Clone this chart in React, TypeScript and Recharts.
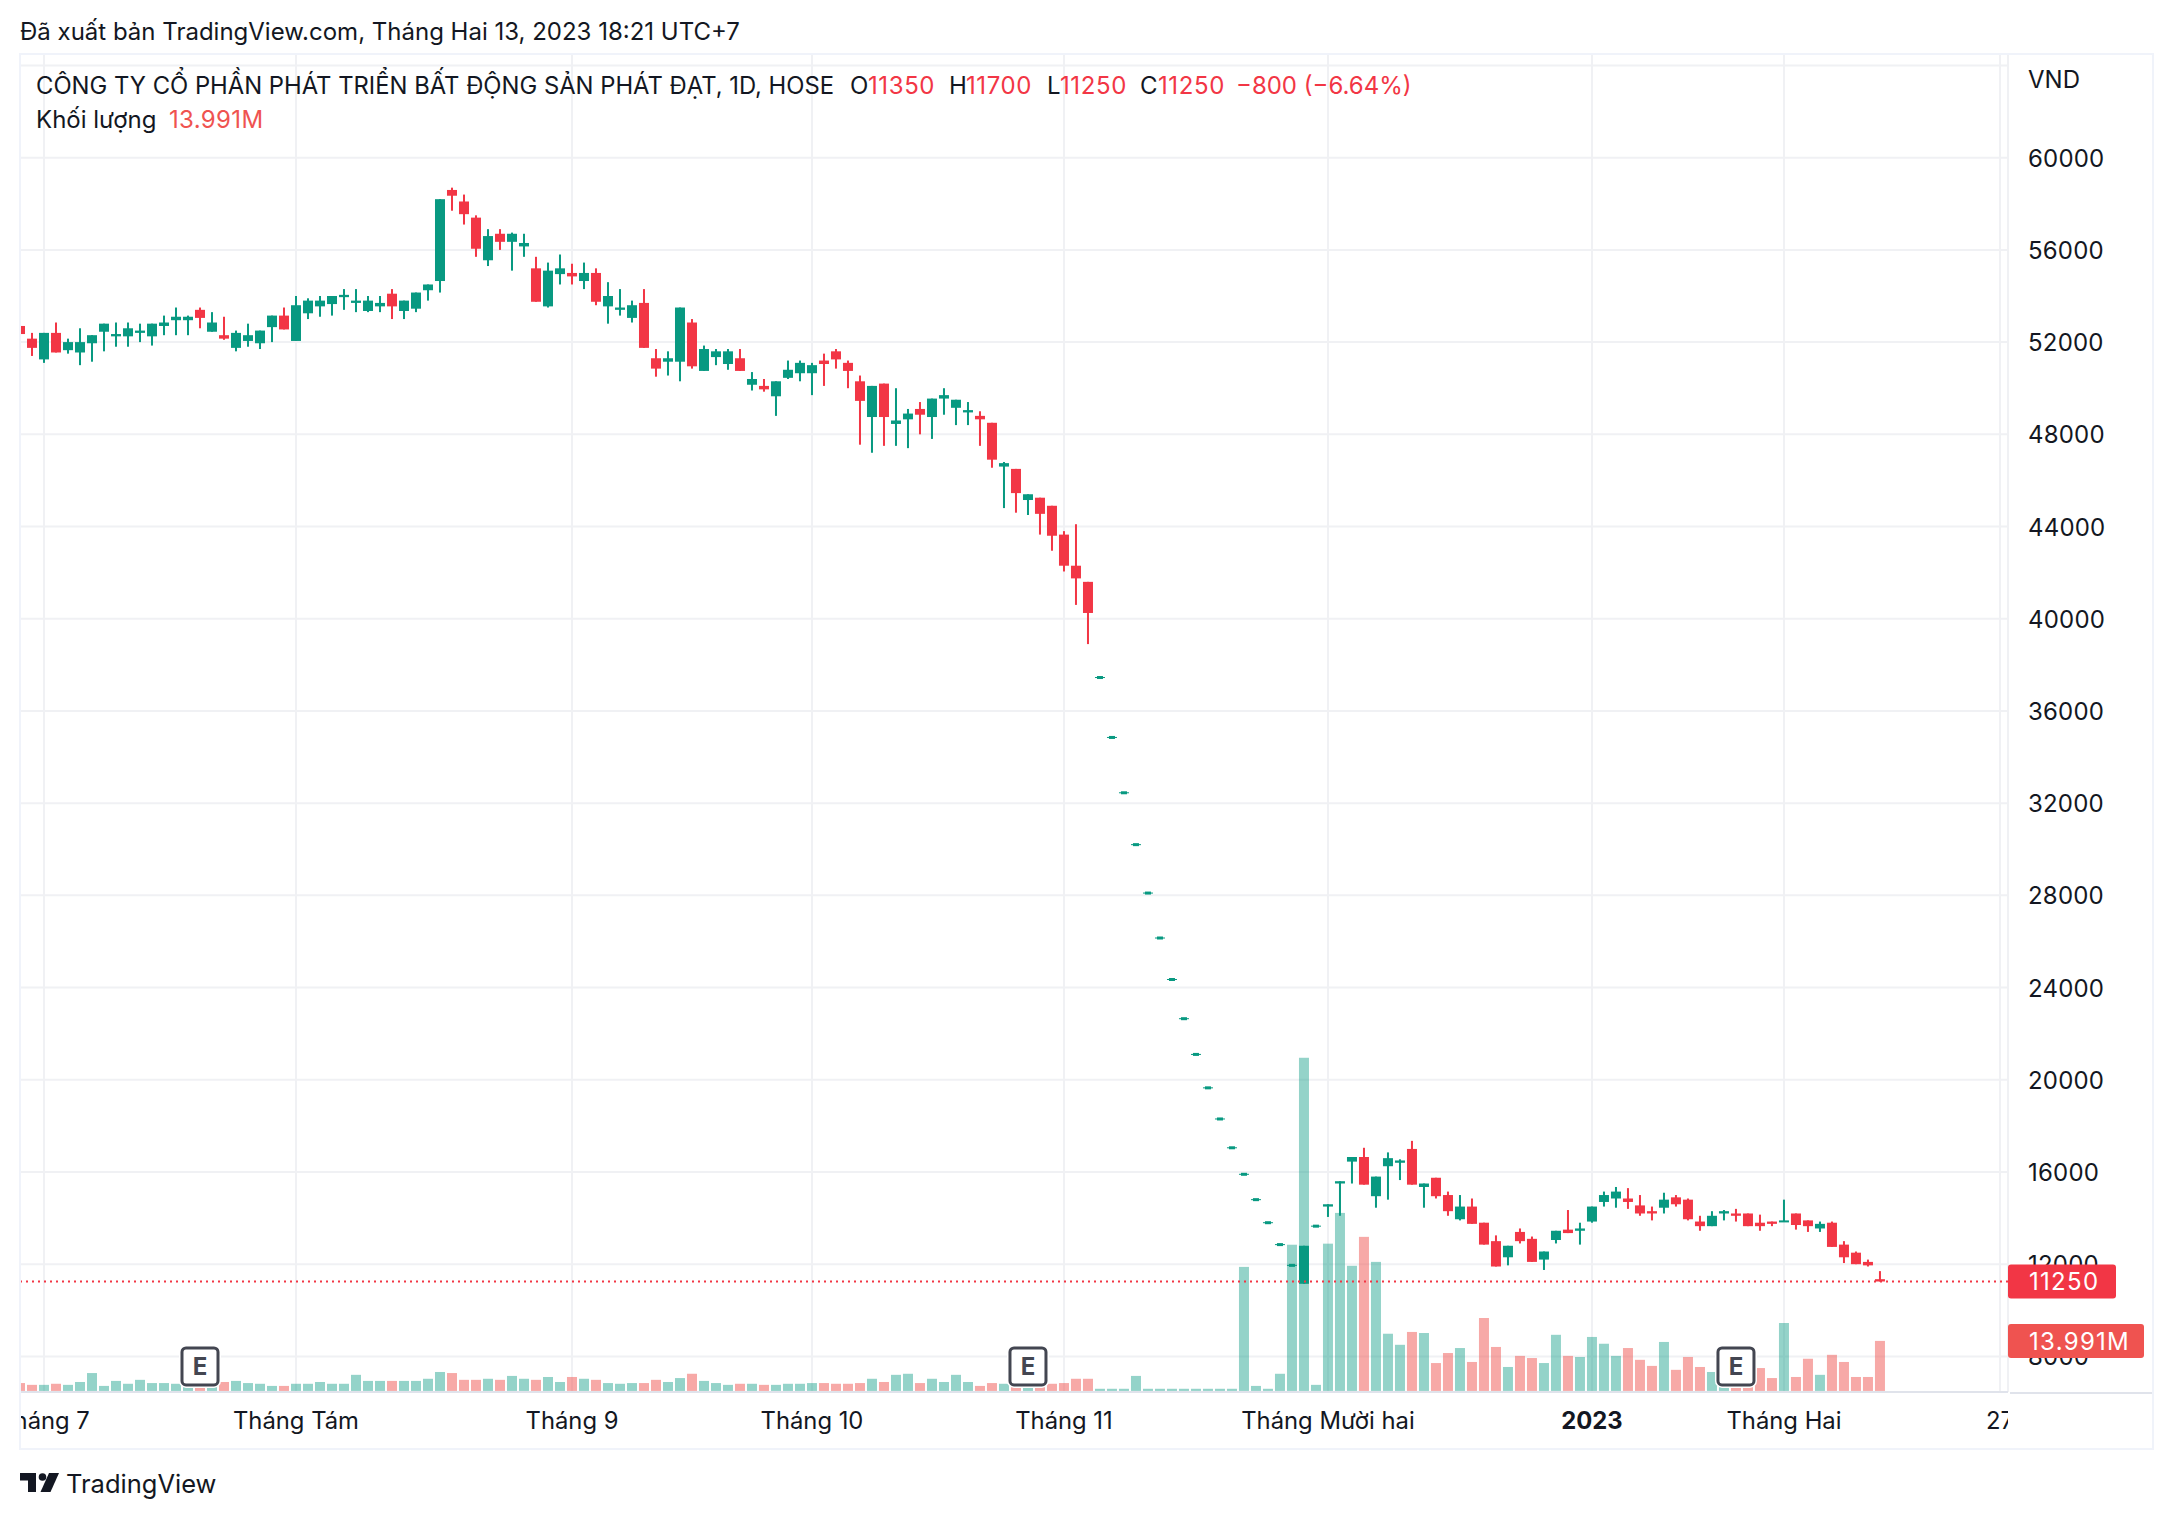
import React from "react";
import {
  ComposedChart,
  Bar,
  XAxis,
  YAxis,
  CartesianGrid,
  ReferenceLine,
  ReferenceDot,
} from "recharts";

const FONT = "Inter, 'Noto Sans', sans-serif";
const INK = "#131722";
const UP = "#089981";
const DOWN = "#f23645";

// OHLC, VND
const opens = [
  52700, 52150, 51250, 52400, 51650, 51550, 51950, 52450, 52250, 52250,
  52400, 52250, 52700, 52950, 52950, 53400, 52450, 52300, 51750, 52050,
  51950, 52650, 53150, 52050, 53250, 53550, 53650, 53950, 53700, 53350,
  53550, 54100, 53350, 53450, 54250, 54650, 58600, 58100, 57400, 55550,
  56700, 56350, 56150, 55200, 53550, 54950, 55000, 54650, 55000, 53550,
  53400, 53050, 53700, 51300, 51150, 51150, 52850, 50750, 51350, 51050,
  51300, 50150, 50100, 49650, 50450, 50650, 50650, 51200, 51600, 51100,
  50300, 48750, 50200, 48450, 48650, 49100, 48750, 49550, 49150, 48950,
  48800, 48500, 46600, 46500, 45150, 45250, 44900, 43650, 42300, 41600,
  37450, 34850, 32450, 30200, 28100, 26150, 24350, 22650, 21100, 19650,
  18300, 17050, 15900, 14800, 13800, 12850, 11950, 11150, 13650, 14500,
  15500, 16450, 16650, 14950, 16250, 16400, 17000, 15350, 15750, 15000,
  13950, 14500, 13800, 13000, 12300, 13400, 13100, 12200, 13050, 13500,
  13450, 13850, 14700, 14850, 14850, 14550, 14300, 14450, 14900, 14800,
  13850, 13650, 14200, 14200, 14200, 13800, 13850, 13850, 14200, 13900,
  13550, 13800, 12850, 12500, 12100, 11350,
];
const highs = [
  53000, 52400, 52400, 52850, 52150, 52600, 52300, 52800, 52850, 52850,
  52800, 52800, 53150, 53500, 53150, 53500, 53300, 53100, 52500, 52800,
  52500, 53150, 53500, 54000, 53900, 54000, 54000, 54300, 54300, 54000,
  54000, 54300, 53800, 54150, 54500, 58200, 58700, 58400, 57500, 56900,
  56900, 56750, 56700, 55700, 55450, 55800, 55400, 55450, 55200, 54600,
  54300, 53800, 54300, 51700, 51600, 53500, 53000, 51850, 51700, 51700,
  51700, 50700, 50400, 50300, 51200, 51200, 51100, 51500, 51700, 51200,
  50550, 50100, 50200, 50000, 49100, 49400, 49550, 50000, 49500, 49400,
  49000, 48500, 46800, 46500, 45400, 45250, 44900, 43800, 44100, 41600,
  37450, 34850, 32450, 30200, 28100, 26150, 24350, 22650, 21100, 19650,
  18300, 17050, 15900, 14800, 13800, 12850, 11950, 12800, 13650, 14600,
  15600, 16650, 17050, 15800, 16850, 16550, 17350, 15500, 15750, 15150,
  15000, 14850, 13800, 13250, 12800, 13550, 13200, 12550, 13450, 14350,
  13800, 14500, 15150, 15350, 15300, 15000, 14500, 15100, 15000, 14850,
  14100, 14300, 14350, 14400, 14200, 14150, 13850, 14800, 14200, 13900,
  13850, 13850, 13000, 12550, 12200, 11700,
];
const lows = [
  51800, 51400, 51100, 51550, 51500, 51000, 51150, 51600, 51800, 51800,
  52000, 51850, 52300, 52300, 52300, 52600, 52450, 52100, 51600, 51800,
  51700, 52000, 52550, 52050, 53000, 53100, 53150, 53400, 53300, 53300,
  53300, 53000, 53000, 53300, 53800, 54150, 57700, 57100, 55700, 55300,
  56000, 55100, 55700, 53750, 53500, 54500, 54500, 54300, 53600, 52800,
  53150, 52850, 51750, 50500, 50550, 50300, 50850, 50750, 51000, 50800,
  50750, 49900, 49850, 48800, 50400, 50300, 49700, 50100, 50850, 50000,
  47550, 47200, 47500, 47500, 47400, 48000, 47800, 48850, 48400, 48400,
  47500, 46550, 44800, 44600, 44500, 43650, 42950, 42050, 40600, 38900,
  37450, 34850, 32450, 30200, 28100, 26150, 24350, 22650, 21100, 19650,
  18300, 17050, 15900, 14800, 13800, 12850, 11950, 11150, 13650, 14050,
  14100, 15500, 15450, 14450, 14800, 15650, 15450, 14450, 14850, 14100,
  13900, 13750, 12850, 11900, 11950, 12900, 12100, 11750, 12900, 13350,
  12850, 13800, 14500, 14450, 14400, 14100, 13900, 14200, 14500, 13900,
  13450, 13650, 13900, 13850, 13650, 13450, 13650, 13850, 13500, 13400,
  13400, 12750, 12050, 12000, 11900, 11250,
];
const closes = [
  52350, 51750, 52400, 51550, 52000, 52000, 52300, 52800, 52350, 52600,
  52500, 52800, 52850, 53100, 53100, 53050, 52850, 52150, 52400, 52300,
  52500, 53150, 52550, 53600, 53800, 53800, 54000, 54050, 53800, 53800,
  53700, 53550, 53800, 54150, 54500, 58200, 58350, 57550, 56050, 56600,
  56350, 56700, 56300, 53750, 55100, 55200, 54850, 55000, 53750, 54000,
  53500, 53600, 51750, 50850, 51300, 53500, 50950, 51700, 51600, 51600,
  50750, 50400, 49950, 50300, 50800, 51100, 51000, 51050, 51250, 50750,
  49450, 50100, 48750, 48600, 48900, 48850, 49550, 49700, 49500, 49050,
  48650, 46900, 46750, 45450, 45400, 44550, 43600, 42300, 41750, 40250,
  37450, 34850, 32450, 30200, 28100, 26150, 24350, 22650, 21100, 19650,
  18300, 17050, 15900, 14800, 13800, 12850, 11950, 12800, 13650, 14600,
  15600, 16650, 15450, 15800, 16600, 16500, 15450, 15500, 14950, 14300,
  14500, 13750, 12850, 11900, 12800, 13000, 12100, 12550, 13450, 13350,
  13550, 14500, 15000, 15150, 14700, 14200, 14200, 14800, 14600, 13950,
  13650, 14100, 14300, 14100, 13650, 13650, 13750, 13900, 13700, 13650,
  13750, 12750, 12300, 12000, 11950, 11250,
];
// million shares
const volumes = [
  2.2, 1.7, 1.7, 2.0, 1.7, 2.5, 5.0, 1.4, 2.8, 2.0,
  3.1, 2.2, 2.2, 2.0, 2.0, 2.0, 2.0, 2.5, 2.8, 2.2,
  2.0, 1.4, 1.4, 2.0, 2.0, 2.5, 2.0, 2.0, 4.5, 2.8,
  2.8, 2.8, 2.8, 2.8, 3.4, 5.3, 5.0, 3.1, 3.1, 3.4,
  3.1, 4.2, 3.4, 3.1, 3.9, 2.5, 3.9, 3.4, 3.1, 2.2,
  2.0, 2.2, 2.2, 3.1, 2.5, 3.6, 4.8, 2.8, 2.2, 1.7,
  2.0, 2.0, 1.7, 1.7, 2.0, 2.0, 2.2, 2.2, 2.0, 2.0,
  2.2, 3.4, 2.5, 4.5, 4.8, 2.2, 3.4, 2.5, 4.5, 2.5,
  1.4, 2.2, 2.0, 1.4, 1.4, 1.4, 2.0, 2.2, 3.4, 3.4,
  0.6, 0.6, 0.6, 4.2, 0.6, 0.6, 0.6, 0.6, 0.6, 0.6,
  0.6, 0.6, 34.7, 1.4, 0.6, 4.8, 40.9, 93.2, 1.7, 41.2,
  49.8, 35.0, 43.1, 36.1, 16.0, 12.9, 16.5, 16.2, 7.8, 10.6,
  12.0, 8.1, 20.4, 12.3, 6.7, 9.8, 9.2, 7.8, 15.7, 9.8,
  9.5, 15.1, 13.2, 9.8, 12.0, 8.7, 7.0, 13.7, 5.9, 9.5,
  6.7, 5.3, 2.8, 2.8, 2.8, 6.4, 3.6, 19.0, 3.9, 9.0,
  4.5, 10.1, 8.1, 3.9, 3.9, 13.991,
];

const priceTicks = [8000, 12000, 16000, 20000, 24000, 28000, 32000, 36000, 40000, 44000, 48000, 52000, 56000, 60000, 64000];
const timeTicks = [2, 23, 46, 66, 87, 109, 131, 147, 165];
const timeLabels = ["Tháng 7", "Tháng Tám", "Tháng 9", "Tháng 10", "Tháng 11", "Tháng Mười hai", "2023", "Tháng Hai", "27"];
const earningsBars = [15, 84, 143];

const lastClose = 11250;
const lastVolume = 13.991;

const xDomain = [0, 165.67];
const priceDomain = [6456, 64498];
const volumeDomain = [-0.3, 374];

const rows = opens.map((open, i) => ({
  i,
  open,
  close: closes[i],
  range: [lows[i], highs[i]],
  volume: volumes[i],
}));

function Candle({ x, y, width, height, payload }: any) {
  const { open, close, range } = payload;
  const color = close >= open ? UP : DOWN;
  const cx = x + width / 2;
  const span = range[1] - range[0];
  if (span === 0) {
    return (
      <g fill={color}>
        <rect x={cx - 5} y={y - 0.5} width={10} height={1} />
        <rect x={cx - 3} y={y - 1.5} width={6} height={3} />
      </g>
    );
  }
  const k = height / span;
  const bodyTop = y + (range[1] - Math.max(open, close)) * k;
  const bodyH = Math.max(Math.abs(open - close) * k, 2);
  return (
    <g fill={color}>
      <rect x={cx - 1} y={y} width={2} height={height} />
      <rect x={cx - 5} y={bodyTop} width={10} height={bodyH} />
    </g>
  );
}

function VolumeBar({ x, y, width, height, payload }: any) {
  const up = payload.close >= payload.open;
  return (
    <rect
      x={x}
      y={y}
      width={width}
      height={height}
      fill={up ? "rgba(8,153,129,0.43)" : "rgba(239,83,80,0.5)"}
    />
  );
}

function PriceTick({ x, y, payload }: any) {
  if (payload.value === 64000) return null;
  return (
    <text x={x} y={y} dy={9} fontSize={24} letterSpacing={0.2} fontFamily={FONT} fill={INK}>
      {payload.value}
    </text>
  );
}

function TimeTick({ x, y, payload }: any) {
  const label = timeLabels[timeTicks.indexOf(payload.value)];
  return (
    <text
      x={x}
      y={y}
      dy={16}
      textAnchor="middle"
      fontSize={23.8}
      fontFamily={FONT}
      fontWeight={label === "2023" ? 700 : 400}
      fill={INK}
    >
      {label}
    </text>
  );
}

function tagLabel(text: string, fill: string, tagWidth: number) {
  return ({ viewBox }: any) => {
    const left = viewBox.x + viewBox.width;
    const top = viewBox.y - 17;
    return (
      <g>
        <rect x={left} y={top} width={tagWidth} height={34} rx={3} fill={fill} />
        <text x={left + 21} y={top + 26} fontSize={24} letterSpacing={1.3} fontFamily={FONT} fill="#fff">
          {text}
        </text>
      </g>
    );
  };
}

function EarningsMark({ cx, cy }: any) {
  return (
    <g>
      <rect x={cx - 18} y={cy - 18} width={36} height={37} rx={4} fill="#fff" stroke="#fff" strokeWidth={6} />
      <rect x={cx - 18} y={cy - 18} width={36} height={37} rx={4} fill="#fff" stroke="#434651" strokeWidth={3} />
      <text x={cx} y={cy + 9} textAnchor="middle" fontSize={24} fontWeight={700} fontFamily={FONT} fill="#434651">
        E
      </text>
    </g>
  );
}

const textStyle: React.CSSProperties = {
  position: "absolute",
  fontFamily: FONT,
  fontSize: 24,
  lineHeight: "30px",
  color: INK,
  whiteSpace: "nowrap",
};

function Legend({ left, top, color = INK, spacing = 0, size = 24, children }: any) {
  return <div style={{ ...textStyle, left, top, color, fontSize: size, letterSpacing: spacing }}>{children}</div>;
}

export default function App() {
  return (
    <div style={{ position: "absolute", left: 0, top: 0, width: 2172, height: 1518, background: "#fff", overflow: "hidden" }}>
      <ComposedChart
        width={2172}
        height={1518}
        data={rows}
        margin={{ top: 54, right: 21, bottom: 70, left: 20 }}
        style={{ position: "absolute", left: 0, top: 0 }}
      >
        <CartesianGrid xAxisId="price" yAxisId="price" stroke="#f0f1f4" strokeWidth={2} />
        <XAxis
          xAxisId="price"
          type="number"
          dataKey="i"
          domain={xDomain}
          ticks={timeTicks}
          interval={0}
          tick={<TimeTick />}
          tickLine={false}
          tickSize={0}
          tickMargin={21}
          height={56}
          axisLine={{ stroke: "#e0e3eb", strokeWidth: 2 }}
        />
        <XAxis xAxisId="vol" type="number" dataKey="i" domain={xDomain} hide />
        <YAxis
          yAxisId="price"
          orientation="right"
          type="number"
          domain={priceDomain}
          ticks={priceTicks}
          interval={0}
          tick={<PriceTick />}
          tickLine={false}
          tickSize={0}
          tickMargin={20}
          width={143}
          axisLine={false}
        />
        <YAxis yAxisId="vol" type="number" domain={volumeDomain} hide />
        <Bar
          xAxisId="vol"
          yAxisId="vol"
          dataKey="volume"
          barSize={10}
          shape={<VolumeBar />}
          isAnimationActive={false}
        />
        <Bar
          xAxisId="price"
          yAxisId="price"
          dataKey="range"
          barSize={10}
          shape={<Candle />}
          isAnimationActive={false}
        />
        <ReferenceLine
          xAxisId="price"
          yAxisId="price"
          y={lastClose}
          stroke={DOWN}
          strokeWidth={2}
          strokeDasharray="2 4"
        />
        {earningsBars.map((i) => (
          <ReferenceDot key={i} xAxisId="vol" yAxisId="vol" x={i} y={7} shape={<EarningsMark />} />
        ))}
      </ComposedChart>

      {/* clip edges of the pane, same as the widget does */}
      <div style={{ position: "absolute", left: 0, top: 54, width: 20, height: 1394, background: "#fff" }} />
      <div style={{ position: "absolute", left: 2008, top: 1394, width: 143, height: 53, background: "#fff" }} />
      <div style={{ position: "absolute", left: 2010, top: 1392, width: 142, height: 2, background: "#e0e3eb" }} />
      <div
        style={{
          position: "absolute",
          left: 19,
          top: 53,
          width: 2131,
          height: 1393,
          border: "2px solid #f0f3fa",
          pointerEvents: "none",
        }}
      />

      {/* second layer, price tags have to sit above the axis labels */}
      <ComposedChart
        width={2172}
        height={1518}
        data={rows}
        margin={{ top: 54, right: 164, bottom: 126, left: 20 }}
        style={{ position: "absolute", left: 0, top: 0 }}
      >
        <XAxis xAxisId="price" type="number" dataKey="i" domain={xDomain} hide />
        <XAxis xAxisId="vol" type="number" dataKey="i" domain={xDomain} hide />
        <YAxis yAxisId="price" type="number" domain={priceDomain} hide />
        <YAxis yAxisId="vol" type="number" domain={volumeDomain} hide />
        <Bar xAxisId="price" yAxisId="price" dataKey="range" barSize={1} shape={() => null} isAnimationActive={false} />
        <Bar xAxisId="vol" yAxisId="vol" dataKey="volume" barSize={1} shape={() => null} isAnimationActive={false} />
        <ReferenceLine
          xAxisId="price"
          yAxisId="price"
          y={lastClose}
          stroke="#ffffff00"
          label={tagLabel("11250", "#f23645", 108)}
        />
        <ReferenceLine
          xAxisId="vol"
          yAxisId="vol"
          y={lastVolume}
          stroke="#ffffff00"
          label={tagLabel("13.991M", "#ef5350", 136)}
        />
      </ComposedChart>

      <Legend left={20} top={17}>Đã xuất bản TradingView.com, Tháng Hai 13, 2023 18:21 UTC+7</Legend>
      <Legend left={36} top={71} size={23.8}>CÔNG TY CỔ PHẦN PHÁT TRIỂN BẤT ĐỘNG SẢN PHÁT ĐẠT, 1D, HOSE</Legend>
      <Legend left={850} top={71}>O</Legend>
      <Legend left={868} top={71} color={DOWN} spacing={0.6}>11350</Legend>
      <Legend left={949} top={71}>H</Legend>
      <Legend left={966} top={71} color={DOWN} spacing={0.6}>11700</Legend>
      <Legend left={1047} top={71}>L</Legend>
      <Legend left={1060} top={71} color={DOWN} spacing={0.6}>11250</Legend>
      <Legend left={1140} top={71}>C</Legend>
      <Legend left={1158} top={71} color={DOWN} spacing={0.6}>11250</Legend>
      <Legend left={1236} top={71} color={DOWN}>−800 (−6.64%)</Legend>
      <Legend left={36} top={105}>Khối lượng</Legend>
      <Legend left={169} top={105} color="#ef5350" spacing={0.35}>13.991M</Legend>
      <Legend left={2028} top={65}>VND</Legend>

      <svg style={{ position: "absolute", left: 20, top: 1473 }} width={40} height={20} viewBox="0 0 40 20" fill={INK}>
        <path d="M0 0H16V19H8V7.5H0Z" />
        <circle cx={22.5} cy={4} r={3.8} />
        <path d="M29 0H39L30.5 19H20.5Z" />
      </svg>
      <Legend left={66} top={1469} size={25.5}>TradingView</Legend>
    </div>
  );
}
